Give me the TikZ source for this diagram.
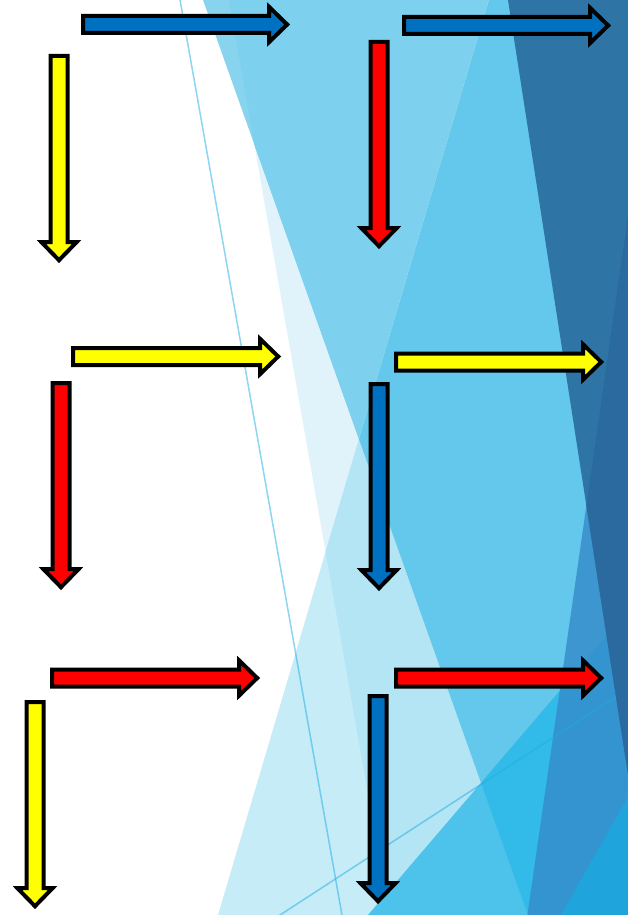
\documentclass[tikz,border=0pt]{standalone}
\definecolor{cB}{HTML}{E0F3FA}
\definecolor{cA}{HTML}{88D4EF}
\definecolor{cAB}{HTML}{7DD1EE}
\definecolor{cC}{HTML}{C6ECF8}
\definecolor{cBC}{HTML}{B3E5F5}
\definecolor{cABC}{HTML}{64C8EC}
\definecolor{cF}{HTML}{4DC3EB}
\definecolor{cAF}{HTML}{32BBE8}
\definecolor{cE}{HTML}{3D96CF}
\definecolor{cEF}{HTML}{3494CF}
\definecolor{cD}{HTML}{2E75A6}
\definecolor{cDE}{HTML}{2A6A9E}
\definecolor{cG}{HTML}{1FA5DC}
\definecolor{thinl}{HTML}{1CADE4}
\definecolor{ablue}{HTML}{0070C0}
\definecolor{ayellow}{HTML}{FFFF00}
\definecolor{ared}{HTML}{FF0000}
\tikzset{
  blockarrow/.style={draw=black, line width=4pt, line join=miter},
  polyA/.style={insert path={(195.9,-20) -- (535.1,935) -- (700,935) -- (700,-20) -- cycle}},
  polyB/.style={insert path={(225.5,-20) -- (392.6,935) -- (700,935) -- (700,-20) -- cycle}},
  polyC/.style={insert path={(494.9,-20) -- (212.1,935) -- (700,935) -- (700,-20) -- cycle}},
  polyD/.style={insert path={(504.9,-20) -- (652.9,935) -- (700,935) -- (700,-20) -- cycle}},
  polyE/.style={insert path={(661.9,-20) -- (524.7,935) -- (700,935) -- (700,-20) -- cycle}},
  polyF/.style={insert path={(340,947.7) -- (700,527) -- (700,950) -- (340,950) -- cycle}},
  polyG/.style={insert path={(549.6,935) -- (700,670) -- (700,935) -- cycle}},
  thinline/.style={draw=thinl, draw opacity=0.5, line width=1.5pt}
}
% right block arrow: #1 colour, #2 outer start x, #3 outer tip x, #4 centre y
\newcommand\rblock[4]{%
  \draw[blockarrow, fill=#1]
    ({#2+2},{#4-8.5}) -- ({#3-20.8},{#4-8.5}) -- ({#3-20.8},{#4-17.5})
    -- ({#3-2.8},{#4}) -- ({#3-20.8},{#4+17.5}) -- ({#3-20.8},{#4+8.5})
    -- ({#2+2},{#4+8.5}) -- cycle;}
% down block arrow: #1 colour, #2 centre x, #3 outer top y, #4 outer tip y
\newcommand\dblock[4]{%
  \draw[blockarrow, fill=#1]
    ({#2-8.5},{#3+2}) -- ({#2-8.5},{#4-20.8}) -- ({#2-17.5},{#4-20.8})
    -- ({#2},{#4-2.8}) -- ({#2+17.5},{#4-20.8}) -- ({#2+8.5},{#4-20.8})
    -- ({#2+8.5},{#3+2}) -- cycle;}
\begin{document}
\begin{tikzpicture}[x=1pt,y=-1pt]
\useasboundingbox (0,0) rectangle (628,915);
\begin{scope}
  \clip (0,0) rectangle (628,915);
  \fill[white] (0,0) rectangle (628,915);
  \fill[cB, polyB];
  \fill[cA, polyA];
  \begin{scope}\clip[polyA]; \fill[cAB, polyB]; \end{scope}
  \fill[cC, polyC];
  \begin{scope}\clip[polyC]; \fill[cBC, polyB]; \end{scope}
  \begin{scope}\clip[polyC]; \fill[cABC, polyA]; \end{scope}
  \fill[cF, polyF];
  \begin{scope}\clip[polyF]; \fill[cAF, polyA]; \end{scope}
  \fill[cE, polyE];
  \begin{scope}\clip[polyE]; \fill[cEF, polyF]; \end{scope}
  \draw[thinline] (270,921.5) -- (700,642);
  \fill[cD, polyD];
  \begin{scope}\clip[polyD]; \fill[cDE, polyE]; \end{scope}
  \fill[cG, polyG];
  \draw[thinline] (176.5,-20) -- (345.5,935);
\end{scope}
% row 1
\rblock{ablue}{81}{290}{24.5}
\dblock{ayellow}{59}{54}{263}
\rblock{ablue}{402}{611}{25.5}
\dblock{ared}{379}{40}{249}
% row 2
\rblock{ayellow}{71}{281}{356.5}
\dblock{ared}{61}{381}{590}
\rblock{ayellow}{394}{604}{362}
\dblock{ablue}{379}{382}{591}
% row 3
\rblock{ared}{50}{260}{678}
\dblock{ayellow}{35}{700}{909}
\rblock{ared}{394}{604}{678}
\dblock{ablue}{378}{694}{904}
\end{tikzpicture}
\end{document}
